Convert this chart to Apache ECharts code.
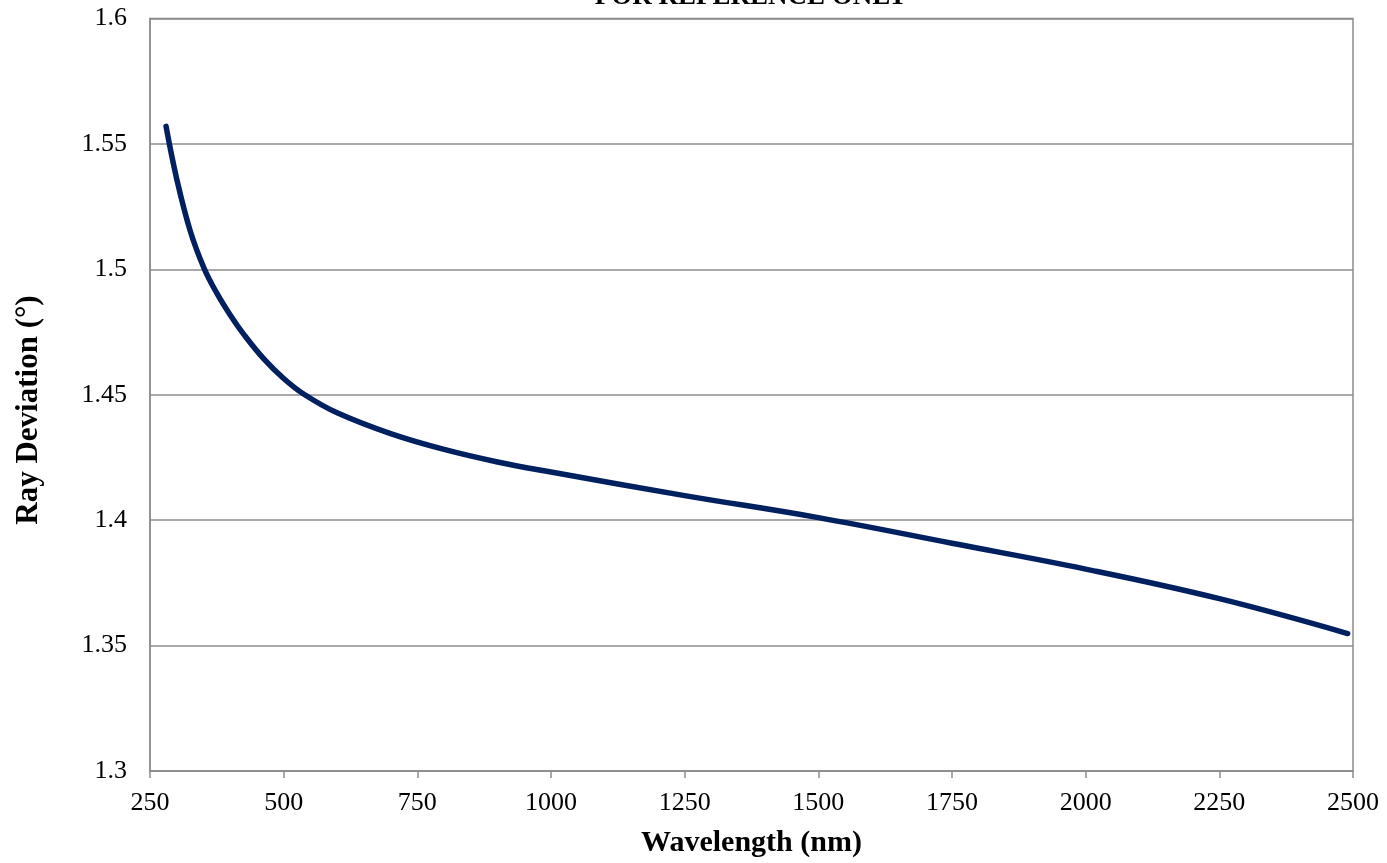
<!DOCTYPE html>
<html>
<head>
<meta charset="utf-8">
<script src="https://cdn.jsdelivr.net/npm/echarts@6/dist/echarts.min.js"></script>
<style>
html,body{margin:0;padding:0;background:#fff;}
#chart{width:1387px;height:863px;}
</style>
</head>
<body>
<div id="chart"></div>
<script>
const wavelengths = [280, 300, 325, 351, 375, 400, 425, 462, 500, 538, 600, 700, 800, 900, 1000, 1250, 1500, 1750, 2000, 2250, 2490];
const deviation   = [1.557, 1.536, 1.5155, 1.5005, 1.4905, 1.4818, 1.4742, 1.4645, 1.4565, 1.4502, 1.4428, 1.4345, 1.4282, 1.4232, 1.4192, 1.4098, 1.4010, 1.3908, 1.3805, 1.3687, 1.3548];
const xTicks = { min: 250, max: 2500, interval: 250 };
const yTicks = { min: 1.3, max: 1.6, interval: 0.05 };
const titleText = 'FOR REFERENCE ONLY';
const xName = 'Wavelength (nm)';
const yName = 'Ray Deviation (°)';

const seriesData = wavelengths.map((w, i) => [w, deviation[i]]);
const serif = '"Liberation Serif", "DejaVu Serif", serif';

const chart = echarts.init(document.getElementById('chart'));
chart.setOption({
  backgroundColor: '#ffffff',
  animation: false,
  title: {
    text: titleText,
    left: 751,
    textAlign: 'center',
    top: -16,
    padding: 0,
    textStyle: { fontFamily: serif, fontWeight: 'bold', fontSize: 27, color: '#000', lineHeight: 27 }
  },
  graphic: [{
    type: 'text',
    x: 29,
    y: 410,
    rotation: Math.PI / 2,
    z: 10,
    style: {
      text: yName,
      align: 'center',
      verticalAlign: 'middle',
      fontFamily: serif,
      fontWeight: 'bold',
      fontSize: 31,
      fill: '#000'
    }
  }],
  grid: {
    left: 150, right: 34, top: 18.5, bottom: 92,
    show: true, borderColor: '#8c8c8c', borderWidth: 1.5
  },
  xAxis: {
    type: 'value',
    min: xTicks.min, max: xTicks.max, interval: xTicks.interval,
    name: xName,
    nameLocation: 'middle',
    nameGap: 57,
    nameTextStyle: { fontFamily: serif, fontWeight: 'bold', fontSize: 30, color: '#000' },
    axisLine: { show: true, lineStyle: { color: '#8c8c8c', width: 1.5 } },
    axisTick: { show: true, length: 7, lineStyle: { color: '#8c8c8c', width: 1.5 } },
    axisLabel: { fontFamily: serif, fontSize: 26, color: '#000', margin: 19, formatter: v => String(v) },
    splitLine: { show: false }
  },
  yAxis: {
    type: 'value',
    min: yTicks.min, max: yTicks.max, interval: yTicks.interval,
    axisLine: { show: true, lineStyle: { color: '#8c8c8c', width: 1.5 } },
    axisTick: { show: false },
    axisLabel: {
      fontFamily: serif, fontSize: 26, color: '#000', margin: 23,
      formatter: v => String(parseFloat(v.toFixed(2)))
    },
    splitLine: { show: true, lineStyle: { color: '#8c8c8c', width: 1.5 } }
  },
  series: [{
    type: 'line',
    data: seriesData,
    smooth: 0.4,
    showSymbol: false,
    symbol: 'none',
    lineStyle: { color: '#002060', width: 5.5, cap: 'round', join: 'round' }
  }]
});
</script>
</body>
</html>
